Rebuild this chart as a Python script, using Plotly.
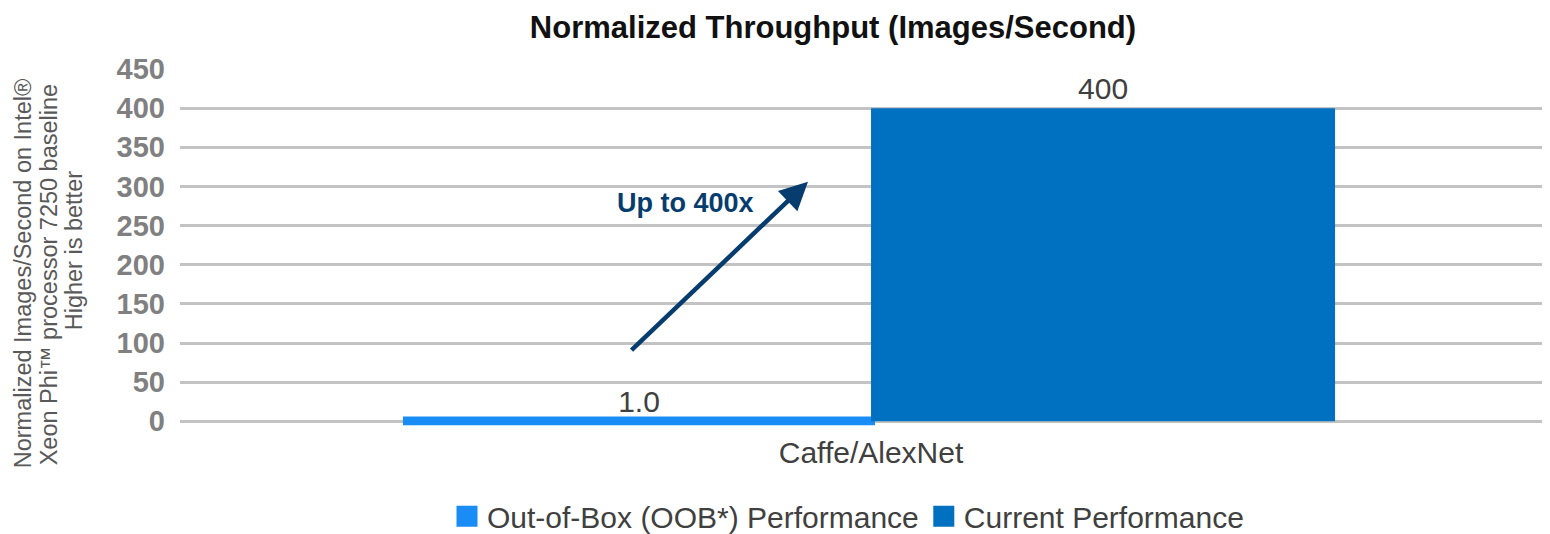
import plotly.graph_objects as go

# ---- data ----
categories = ["Caffe/AlexNet"]
series_names = ["Out-of-Box (OOB*) Performance", "Current Performance"]
oob_values = [1.0]
current_values = [400]
oob_labels = ["1.0"]
current_labels = ["400"]
y_ticks = [0, 50, 100, 150, 200, 250, 300, 350, 400, 450]

title_text = "Normalized Throughput (Images/Second)"
y_title_lines = ["Normalized Images/Second on Intel®",
                 "Xeon Phi™ processor 7250 baseline",
                 "Higher is better"]
arrow_text = "Up to 400x"

# ---- styles ----
C_OOB = "#1a8cf5"
C_CUR = "#0070c0"
NAVY = "#073d6e"
GRID = "#c3c3c3"
FONT = "Liberation Sans, Arial, sans-serif"

# page body has an 8px default margin -> figure is 8px smaller than the window
OFF = 8
W, H = 1550 - OFF, 534 - OFF
L, R, T, B = 180 - OFF, 0, 69 - OFF, 108
PW, PH = W - L - R, H - T - B

fig = go.Figure()
fig.add_trace(go.Bar(
    x=categories, y=oob_values, name=series_names[0],
    marker=dict(color=C_OOB, line=dict(color=C_OOB, width=8)),
    text=oob_labels, textposition="outside",
    textfont=dict(size=30, color="#404040", family=FONT),
    showlegend=False, cliponaxis=False,
))
fig.add_trace(go.Bar(
    x=categories, y=current_values, name=series_names[1],
    marker=dict(color=C_CUR, line=dict(width=0)),
    text=current_labels, textposition="outside",
    textfont=dict(size=30, color="#404040", family=FONT),
    showlegend=False, cliponaxis=False,
))
# legend entries (larger square swatches)
for nm, col in zip(series_names, [C_OOB, C_CUR]):
    fig.add_trace(go.Scatter(
        x=[None], y=[None], mode="markers", name=nm,
        marker=dict(symbol="square", size=16, color=col, line=dict(color=col, width=5)),
    ))

fig.update_layout(
    width=W, height=H,
    margin=dict(l=L, r=R, t=T, b=B, autoexpand=False),
    paper_bgcolor="white", plot_bgcolor="white",
    barmode="group", bargap=0.3226, bargroupgap=0,
    font=dict(family=FONT, color="#404040"),
    title=dict(text="<b>" + title_text + "</b>", x=(833 - 180) / PW, xref="paper", xanchor="center",
               y=1 - (27 - OFF) / H, yref="container", yanchor="middle",
               font=dict(size=31, color="#111111", family=FONT)),
    legend=dict(orientation="h", x=(848 - 180) / PW, xanchor="center",
                y=-(516 - 425.7) / PH, yanchor="middle",
                font=dict(size=30, color="#404040", family=FONT),
                itemwidth=30, tracegroupgap=0, bgcolor="rgba(0,0,0,0)"),
    xaxis=dict(showgrid=False, showline=False, ticks="", automargin=False,
               range=[-0.5044, 0.4956],
               tickfont=dict(size=30, color="#404040", family=FONT),
               ticklabelstandoff=6),
    yaxis=dict(range=[-6, 450], tickvals=y_ticks, showgrid=True, gridcolor=GRID, gridwidth=2.5,
               zeroline=True, zerolinecolor=GRID, zerolinewidth=2.5, showline=False, ticks="",
               automargin=False,
               tickfont=dict(size=29, color="#808080", family=FONT, weight="bold"),
               ticklabelstandoff=14),
)

# y-axis title: one rotated annotation per line (reference pixel x, y centre)
for line, px, py in zip(y_title_lines, [23, 49, 74], [273, 275, 250]):
    fig.add_annotation(text=line, xref="paper", yref="paper",
                       x=(px - 180) / PW, y=(425.7 - py) / PH,
                       xanchor="center", yanchor="middle", textangle=-90, showarrow=False,
                       font=dict(size=23.5, color="#595959", family=FONT))

# arrow
fig.add_annotation(text="", xref="x domain", yref="y", x=(808 - 180) / PW, y=306,
                   axref="x domain", ayref="y", ax=(630 - 180) / PW, ay=89,
                   showarrow=True, arrowhead=2, arrowsize=1.25, arrowwidth=4.5, arrowcolor=NAVY)
fig.add_annotation(text="<b>" + arrow_text + "</b>", xref="x domain", yref="y",
                   x=(685 - 180) / PW, y=279,
                   xanchor="center", yanchor="middle", showarrow=False,
                   font=dict(size=27, color=NAVY, family=FONT))

fig.write_html("out.html")
